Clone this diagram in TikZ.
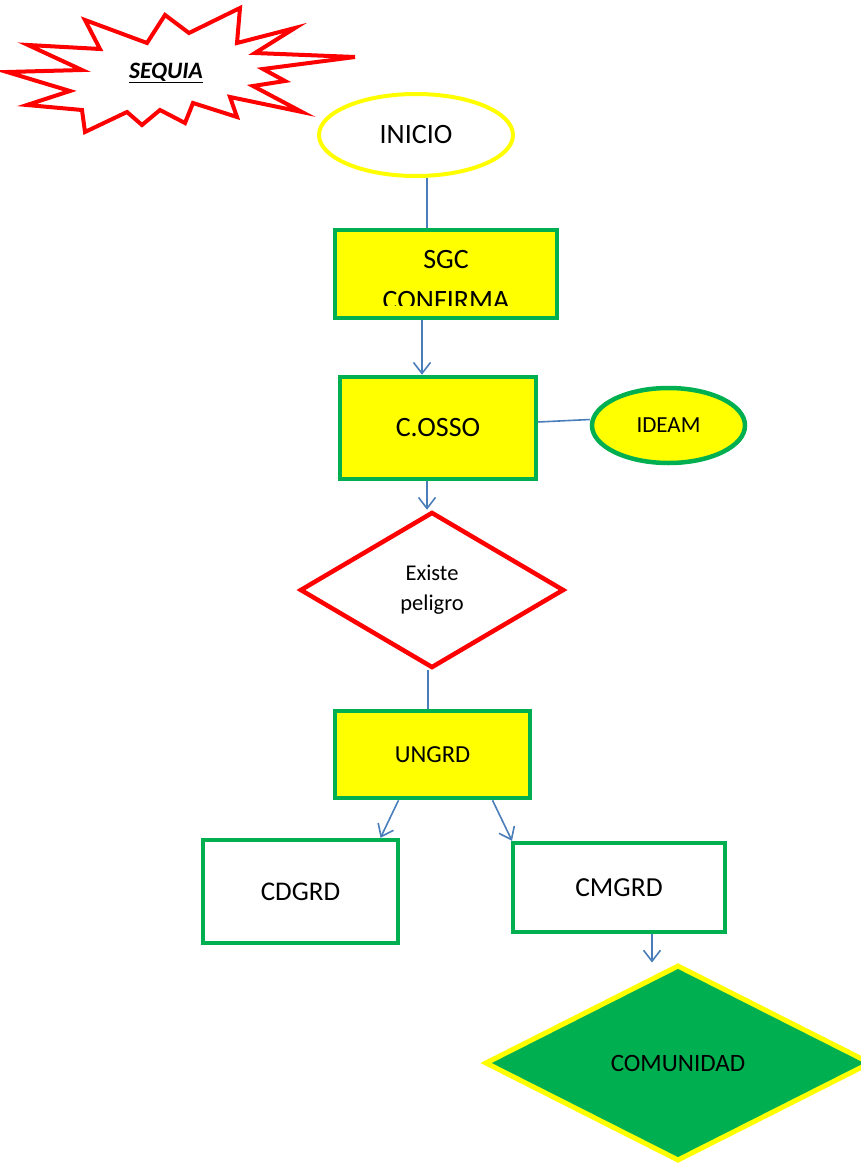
\documentclass[tikz,border=0pt]{standalone}
\usepackage{fontspec}
\setmainfont{Carlito}
\usetikzlibrary{shapes.geometric,arrows.meta}
\definecolor{gr}{RGB}{0,176,80}
\definecolor{ye}{RGB}{255,255,0}
\definecolor{rd}{RGB}{255,0,0}
\definecolor{bl}{RGB}{74,126,187}
\tikzset{
  box/.style={draw=gr, line width=4.5pt, fill=ye, rectangle, inner sep=0pt},
  wbox/.style={draw=gr, line width=4.5pt, fill=white, rectangle, inner sep=0pt},
  conn/.style={draw=bl, line width=1.6pt},
  arr/.style={conn, -{Straight Barb[length=11pt,width=17pt,line width=1.6pt]}},
  big/.style={font=\fontsize{28}{32}\selectfont},
}
\begin{document}
\begin{tikzpicture}[x=1pt,y=-1pt]
\useasboundingbox (0,0) rectangle (860,1164);
% starburst
\draw[rd, line width=4pt, fill=white, line join=miter]
 (7,72) -- (82,70) -- (28,45) -- (100,49) -- (85,20) -- (147,43) -- (165,15) -- (189,33) -- (240,8) -- (237,43) -- (295,28) -- (255,53) -- (355,57) -- (263,69) -- (285,81) -- (253,86) -- (302,112) -- (230,97) -- (237,117) -- (193,103) -- (185,123) -- (160,110) -- (142,125) -- (127,112) -- (85,132) -- (82,110) -- (27,105) -- (70,91) -- cycle;
\node[font=\fontsize{23.5}{28}\selectfont\bfseries\itshape] (sequia) at (166,73) {\underline{SEQUIA}};
% INICIO
\node[ellipse, draw=ye, line width=4pt, fill=white, minimum width=194pt, minimum height=82pt, inner sep=0pt, big] (inicio) at (416,135) {INICIO};
% SGC
\node[box, minimum width=222pt, minimum height=88pt] (sgc) at (446,274) {};
\begin{scope}
\clip (337,232) rectangle (555,305);
\node[big, anchor=base, inner sep=0pt] (sgct) at (446,268) {SGC};
\node[big, anchor=base, inner sep=0pt] (sgcc) at (446,309) {CONFIRMA};
\end{scope}
% C.OSSO
\node[box, minimum width=196pt, minimum height=102pt, big] (cosso) at (438,428) {C.OSSO};
% IDEAM
\node[ellipse, draw=gr, line width=4.5pt, fill=ye, minimum width=153pt, minimum height=75pt, inner sep=0pt, font=\fontsize{23}{27}\selectfont] (ideam) at (668.5,425.5) {IDEAM};
% decision
\node[diamond, draw=rd, line width=4.5pt, fill=white, minimum width=264pt, minimum height=156pt, inner sep=0pt, align=center, font=\fontsize{22.5}{30}\selectfont] (ex) at (432,590) {Existe\\peligro};
% UNGRD
\node[box, minimum width=195pt, minimum height=87pt, font=\fontsize{24.5}{28}\selectfont] (ungrd) at (432.5,754.5) {UNGRD};
% CDGRD, CMGRD
\node[wbox, minimum width=195pt, minimum height=103pt, font=\fontsize{27}{31}\selectfont] (cdgrd) at (300.5,891.5) {CDGRD};
\node[wbox, minimum width=212pt, minimum height=89pt, font=\fontsize{27.5}{31}\selectfont] (cmgrd) at (619,887.5) {CMGRD};
% COMUNIDAD
\node[diamond, draw=ye, line width=5pt, fill=gr, minimum width=386pt, minimum height=196pt, inner sep=0pt, font=\fontsize{25}{29}\selectfont] (com) at (678,1063) {COMUNIDAD};
% connectors
\draw[conn] ([xshift=11pt]inicio.south) -- ([xshift=-19pt]sgc.north);
\draw[arr] ([xshift=-24pt]sgc.south) -- ([xshift=-16pt]cosso.north);
\draw[conn] ([yshift=6pt]cosso.east) -- ([yshift=6pt]ideam.west);
\draw[arr] ([xshift=-11pt]cosso.south) -- ([xshift=-5pt]ex.north);
\draw[conn] ([xshift=-4pt]ex.south) -- ([xshift=-4.5pt]ungrd.north);
\draw[arr] ([xshift=-34pt]ungrd.south) -- ([xshift=80pt]cdgrd.north);
\draw[arr] ([xshift=60pt]ungrd.south) -- ([xshift=-107pt]cmgrd.north);
\draw[arr] ([xshift=33pt]cmgrd.south) -- ([xshift=-26pt]com.north);
\end{tikzpicture}
\end{document}
